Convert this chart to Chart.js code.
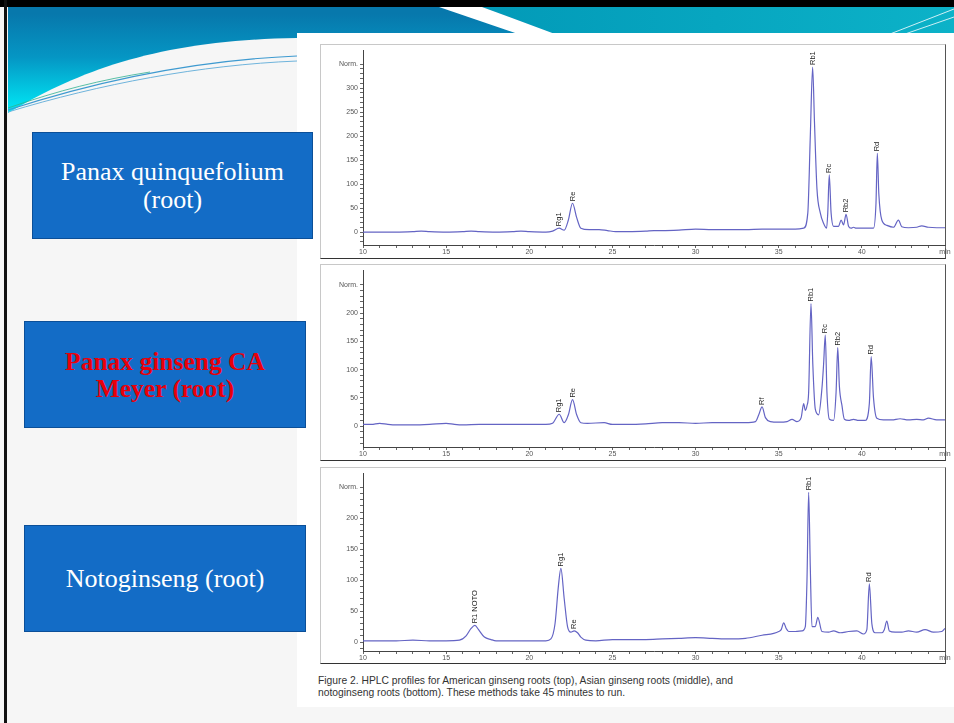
<!DOCTYPE html>
<html>
<head>
<meta charset="utf-8">
<script src="https://cdn.jsdelivr.net/npm/chart.js@4.4.0/dist/chart.umd.min.js"></script>
<style>
  body { margin: 0; width: 954px; height: 723px; overflow: hidden; background: #f6f6f6; position: relative; }
  .abs { position: absolute; }
  #figure { left: 297px; top: 33px; width: 657px; height: 674px; background: #fff; }
  .frame { left: 320px; width: 624px; border: 1px solid #c8c8c8; border-right-color: #555; border-bottom-color: #333; }
  .box {
    background: #136cc6; border: 1.5px solid #0b4f98; box-sizing: border-box;
    color: #fff; font-family: 'Liberation Serif', 'DejaVu Serif', serif; font-size: 26px; line-height: 28px;
    text-align: center; display: flex; align-items: center; justify-content: center;
  }
  .red { color: #e8000a; font-weight: bold; font-size: 25.5px; line-height: 27px; }
  #caption { left: 318px; top: 675px; font-family: 'Liberation Sans', Arial, sans-serif; font-size: 10.3px; line-height: 11.5px; color: #333; }
  canvas { position: absolute; }
</style>
</head>
<body>
<svg class="abs" style="left:0;top:0" width="954" height="723">
  <defs>
    <linearGradient id="bandL" gradientUnits="userSpaceOnUse" x1="0" y1="14" x2="0" y2="110">
      <stop offset="0" stop-color="#0778ac"/>
      <stop offset="0.45" stop-color="#0596c4"/>
      <stop offset="1" stop-color="#00e6f4"/>
    </linearGradient>
    <linearGradient id="bandR" gradientUnits="userSpaceOnUse" x1="480" y1="0" x2="954" y2="0">
      <stop offset="0" stop-color="#029ab8"/>
      <stop offset="1" stop-color="#0cb2c8"/>
    </linearGradient>
  </defs>
  <rect x="8" y="7" width="946" height="110" fill="url(#bandL)"/>
  <polygon points="482,7 954,7 954,34 555,34" fill="url(#bandR)"/>
  <polygon points="439,7 482,7 555,34 518,34" fill="#fff"/>
  <line x1="890" y1="34" x2="954" y2="9" stroke="#cfeff5" stroke-width="1"/>
  <line x1="905" y1="34" x2="954" y2="17" stroke="#cfeff5" stroke-width="1"/>
  <path d="M8,113 C 80,70 160,40 297,38 L297,723 L8,723 Z" fill="#f6f6f6"/>
  <path d="M8,110 C 100,80 200,60 297,56" fill="none" stroke="#3e9ad0" stroke-width="1.2"/>
  <path d="M8,112 C 100,84 200,65 297,61" fill="none" stroke="#6fb4dc" stroke-width="1"/>
  <path d="M8,108 C 60,90 100,80 150,72" fill="none" stroke="#2fb090" stroke-width="0.8"/>
  <rect x="0" y="0" width="954" height="7" fill="#000"/>
  <rect x="4" y="0" width="3" height="723" fill="#111"/>
</svg>

<div id="figure" class="abs"></div>
<div class="abs frame" style="top:44px;height:213px"></div>
<div class="abs frame" style="top:264px;height:195px"></div>
<div class="abs frame" style="top:467px;height:195px"></div>

<canvas id="chartAm" width="636" height="214" style="left:318px;top:44px"></canvas>
<canvas id="chartAs" width="636" height="196" style="left:318px;top:264px"></canvas>
<canvas id="chartNo" width="636" height="196" style="left:318px;top:467px"></canvas>

<div id="caption" class="abs">Figure 2. HPLC profiles for American ginseng roots (top), Asian ginseng roots (middle), and<br>notoginseng roots (bottom). These methods take 45 minutes to run.</div>

<div class="abs box" style="left:32px;top:132px;width:281px;height:107px">Panax quinquefolium<br>(root)</div>
<div class="abs box red" style="left:24px;top:321px;width:282px;height:107px">Panax ginseng CA<br>Meyer (root)</div>
<div class="abs box" style="left:24px;top:525px;width:282px;height:107px">Notoginseng (root)</div>

<script>
// American ginseng (top trace) - minutes / Norm.
const amTime = [10, 11, 12, 13, 13.5, 14, 15, 16, 16.5, 17, 18, 19, 19.5, 20, 21, 21.4, 21.8, 22.1, 22.35, 22.6, 22.85, 23.1, 23.6, 24.2, 24.7, 25.2, 26, 27, 27.5, 28, 29, 30, 31, 32, 32.4, 33, 34, 35, 35.5, 36, 36.5, 36.75, 36.9, 37.04, 37.15, 37.3, 37.5, 37.7, 37.88, 37.95, 38.04, 38.15, 38.3, 38.6, 38.75, 38.9, 39.05, 39.2, 39.35, 39.5, 39.65, 40.3, 40.7, 40.85, 40.93, 41.02, 41.2, 41.5, 41.9, 42.2, 42.4, 42.8, 43.3, 43.6, 44, 44.5, 45];
const amSignal = [0, 0, 0, 1, 2, 1, 0, 1, 2, 1, 0, 1, 2, 1, 0, 2, 8, 4, 25, 60, 30, 8, 5, 5, 3, 1, 1, 2, 3, 3, 4, 6, 5, 5, 5, 5, 6, 6, 6, 6, 8, 40, 200, 344, 230, 90, 40, 18, 8, 40, 119, 40, 12, 12, 25, 15, 37, 12, 8, 10, 8, 8, 8, 60, 164, 80, 25, 14, 10, 25, 11, 9, 10, 13, 10, 9, 9];
const amPeakNames = ['Rg1', 'Re', 'Rb1', 'Rc', 'Rb2', 'Rd'];
const amPeakTime = [21.8, 22.6, 37.04, 38.04, 39.05, 40.93];
const amPeakHeight = [8, 60, 344, 119, 37, 164];

// Asian ginseng (middle trace)
const asTime = [10, 10.5, 11, 11.5, 12, 13, 14, 15, 15.5, 16, 17, 18, 19, 20, 21, 21.4, 21.8, 22.1, 22.35, 22.6, 22.85, 23.1, 23.5, 24.5, 25, 26, 27, 28, 29, 30, 31, 32, 33, 33.6, 33.8, 34, 34.2, 34.5, 35, 35.5, 35.8, 36.1, 36.35, 36.5, 36.6, 36.7, 36.8, 36.94, 37.05, 37.2, 37.4, 37.6, 37.7, 37.8, 37.9, 38.05, 38.3, 38.45, 38.55, 38.65, 38.8, 38.95, 39.2, 39.5, 39.8, 40.2, 40.45, 40.56, 40.7, 40.9, 41.3, 41.8, 42.3, 42.8, 43.3, 43.7, 44, 44.5, 45];
const asSignal = [3, 3, 5, 3, 2, 2, 3, 5, 3, 2, 3, 3, 3, 3, 3, 5, 21, 6, 20, 47, 20, 6, 5, 6, 3, 3, 4, 6, 6, 5, 6, 6, 6, 8, 20, 34, 15, 8, 7, 8, 12, 8, 15, 40, 28, 36, 60, 217, 110, 30, 20, 67, 110, 161, 60, 12, 10, 60, 139, 70, 37, 12, 10, 12, 10, 10, 40, 123, 50, 14, 11, 11, 13, 11, 12, 11, 14, 11, 11];
const asPeakNames = ['Rg1', 'Re', 'Rf', 'Rb1', 'Rc', 'Rb2', 'Rd'];
const asPeakTime = [21.8, 22.6, 34.0, 36.94, 37.8, 38.55, 40.56];
const asPeakHeight = [21, 47, 34, 217, 161, 139, 123];

// Notoginseng (bottom trace)
const noTime = [10, 11, 12, 13, 14, 15, 15.8, 16.2, 16.5, 16.73, 16.95, 17.3, 17.7, 18, 19, 20, 21, 21.3, 21.55, 21.75, 21.9, 22.1, 22.3, 22.5, 22.7, 22.9, 23.1, 23.4, 24, 25, 26, 27, 28, 29, 30, 31, 32, 33, 34, 34.7, 35, 35.15, 35.3, 35.45, 35.6, 36, 36.4, 36.6, 36.7, 36.8, 36.9, 37.0, 37.2, 37.35, 37.6, 38, 38.3, 38.7, 39.2, 39.7, 40.1, 40.3, 40.45, 40.6, 40.8, 41.2, 41.35, 41.5, 41.65, 42, 42.4, 42.8, 43.3, 43.8, 44.3, 44.8, 45];
const noSignal = [2, 2, 2, 3, 2, 2, 3, 10, 22, 27, 20, 8, 4, 2, 2, 2, 2, 5, 30, 90, 119, 70, 25, 16, 18, 15, 8, 3, 2, 4, 4, 4, 5, 6, 7, 6, 5, 6, 11, 14, 17, 20, 31, 22, 17, 17, 18, 25, 100, 242, 120, 25, 25, 40, 17, 16, 18, 15, 17, 18, 13, 20, 94, 30, 15, 15, 20, 34, 18, 16, 16, 18, 16, 20, 16, 17, 22];
const noPeakNames = ['R1 NOTO', 'Rg1', 'Re', 'Rb1', 'Rd'];
const noPeakTime = [16.73, 21.9, 22.7, 36.8, 40.45];
const noPeakHeight = [27, 119, 18, 242, 94];

const xTickLabels = [10, 15, 20, 25, 30, 35, 40];

const peakLabels = {
  id: 'peakLabels',
  afterDatasetsDraw(chart, args, opts) {
    const { ctx, scales: { x, y } } = chart;
    ctx.save();
    ctx.font = '7.5px "Liberation Sans", Arial, sans-serif';
    ctx.fillStyle = '#222';
    ctx.textAlign = 'left';
    ctx.textBaseline = 'middle';
    opts.names.forEach((name, i) => {
      const px = x.getPixelForValue(opts.times[i]);
      const py = y.getPixelForValue(opts.heights[i]) - 2;
      ctx.save();
      ctx.translate(px, py);
      ctx.rotate(-Math.PI / 2);
      ctx.fillText(name, 0, 0);
      ctx.restore();
    });
    ctx.restore();
  }
};

function drawTrace(canvasId, times, signal, names, peakTimes, peakHeights, yMin, yMax, yLabelMax, xAxisHeight) {
  const ctx = document.getElementById(canvasId).getContext('2d');
  const tickFont = { family: '"Liberation Sans", Arial, sans-serif', size: 7 };
  return new Chart(ctx, {
    type: 'line',
    data: {
      datasets: [{
        data: times.map((t, i) => ({ x: t, y: signal[i] })),
        borderColor: '#6464c4',
        borderWidth: 1.2,
        pointRadius: 0,
        cubicInterpolationMode: 'monotone',
        fill: false
      }]
    },
    options: {
      responsive: false,
      animation: false,
      devicePixelRatio: 1,
      layout: { padding: { top: 6, right: 9, left: 0, bottom: 0 } },
      scales: {
        x: {
          type: 'linear',
          min: 10,
          max: 45,
          afterBuildTicks: (scale) => {
            const ticks = [];
            for (let v = 10; v <= 45; v++) ticks.push({ value: v });
            scale.ticks = ticks;
          },
          afterFit: (scale) => { scale.height = xAxisHeight; },
          grid: { drawOnChartArea: false, drawTicks: true, tickLength: 3, color: '#666' },
          border: { display: true, color: '#444' },
          ticks: {
            autoSkip: false, maxRotation: 0, padding: 0, color: '#555', font: tickFont,
            callback: (v) => v === 45 ? 'min' : (xTickLabels.includes(v) ? String(v) : '')
          }
        },
        y: {
          min: yMin,
          max: yMax,
          afterBuildTicks: (scale) => {
            const ticks = [];
            for (let v = Math.ceil(yMin / 10) * 10; v <= yLabelMax + 50; v += 10) ticks.push({ value: v });
            scale.ticks = ticks;
          },
          afterFit: (scale) => { scale.width = 45; },
          grid: { drawOnChartArea: false, drawTicks: true, tickLength: 3, color: '#666' },
          border: { display: true, color: '#444' },
          ticks: {
            autoSkip: false, padding: 2, color: '#555', font: tickFont,
            callback: (v) => {
              if (v === yLabelMax + 50) return 'Norm.';
              if (v >= 0 && v <= yLabelMax && v % 50 === 0) return String(v);
              return '';
            }
          }
        }
      },
      plugins: {
        legend: { display: false },
        tooltip: { enabled: false },
        peakLabels: { names, times: peakTimes, heights: peakHeights }
      }
    },
    plugins: [peakLabels]
  });
}

drawTrace('chartAm', amTime, amSignal, amPeakNames, amPeakTime, amPeakHeight, -27, 379, 300, 13);
drawTrace('chartAs', asTime, asSignal, asPeakNames, asPeakTime, asPeakHeight, -37, 276, 200, 13);
drawTrace('chartNo', noTime, noSignal, noPeakNames, noPeakTime, noPeakHeight, -14.5, 273, 200, 12);
</script>
</body>
</html>
